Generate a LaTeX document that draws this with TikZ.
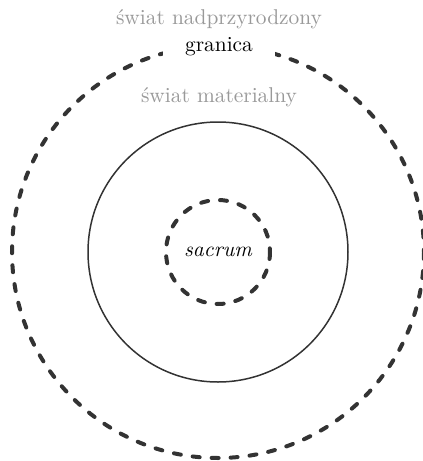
\documentclass[tikz,border=0pt]{standalone}
\usepackage{fontspec}
\usetikzlibrary{positioning}

\definecolor{linea}{HTML}{333333}
\definecolor{grigio}{HTML}{999999}

\tikzset{
  confine/.style={draw=linea, line width=2pt, line cap=round, dash pattern=on 3.5pt off 6pt},
  mondo/.style={draw=linea, line width=0.75pt},
  etichetta/.style={font=\fontsize{10.7}{13}\selectfont, inner sep=1pt},
}

\begin{document}
\begin{tikzpicture}[x=0.5pt, y=-0.5pt]
  \useasboundingbox (0,0) rectangle (423,461);

  % --- centro comune ---
  \coordinate (centro) at (218,252);

  % --- cerchi ---
  \draw[confine] (centro) circle [radius=206];
  \draw[mondo] (centro) circle [radius=130];
  \draw[confine] (centro) circle [radius=52];

  % --- testi ---
  \node[etichetta, text=grigio] (nadprzyrodzony) at (219,19) {świat nadprzyrodzony};
  \node[etichetta, fill=white, inner xsep=11pt, text=black] (granica) at (219,47) {granica};
  \node[etichetta, text=grigio] (materialny) at (219,97) {świat materialny};
  \node[etichetta] (sacrum) at (centro) {\itshape sacrum};

\end{tikzpicture}
\end{document}
